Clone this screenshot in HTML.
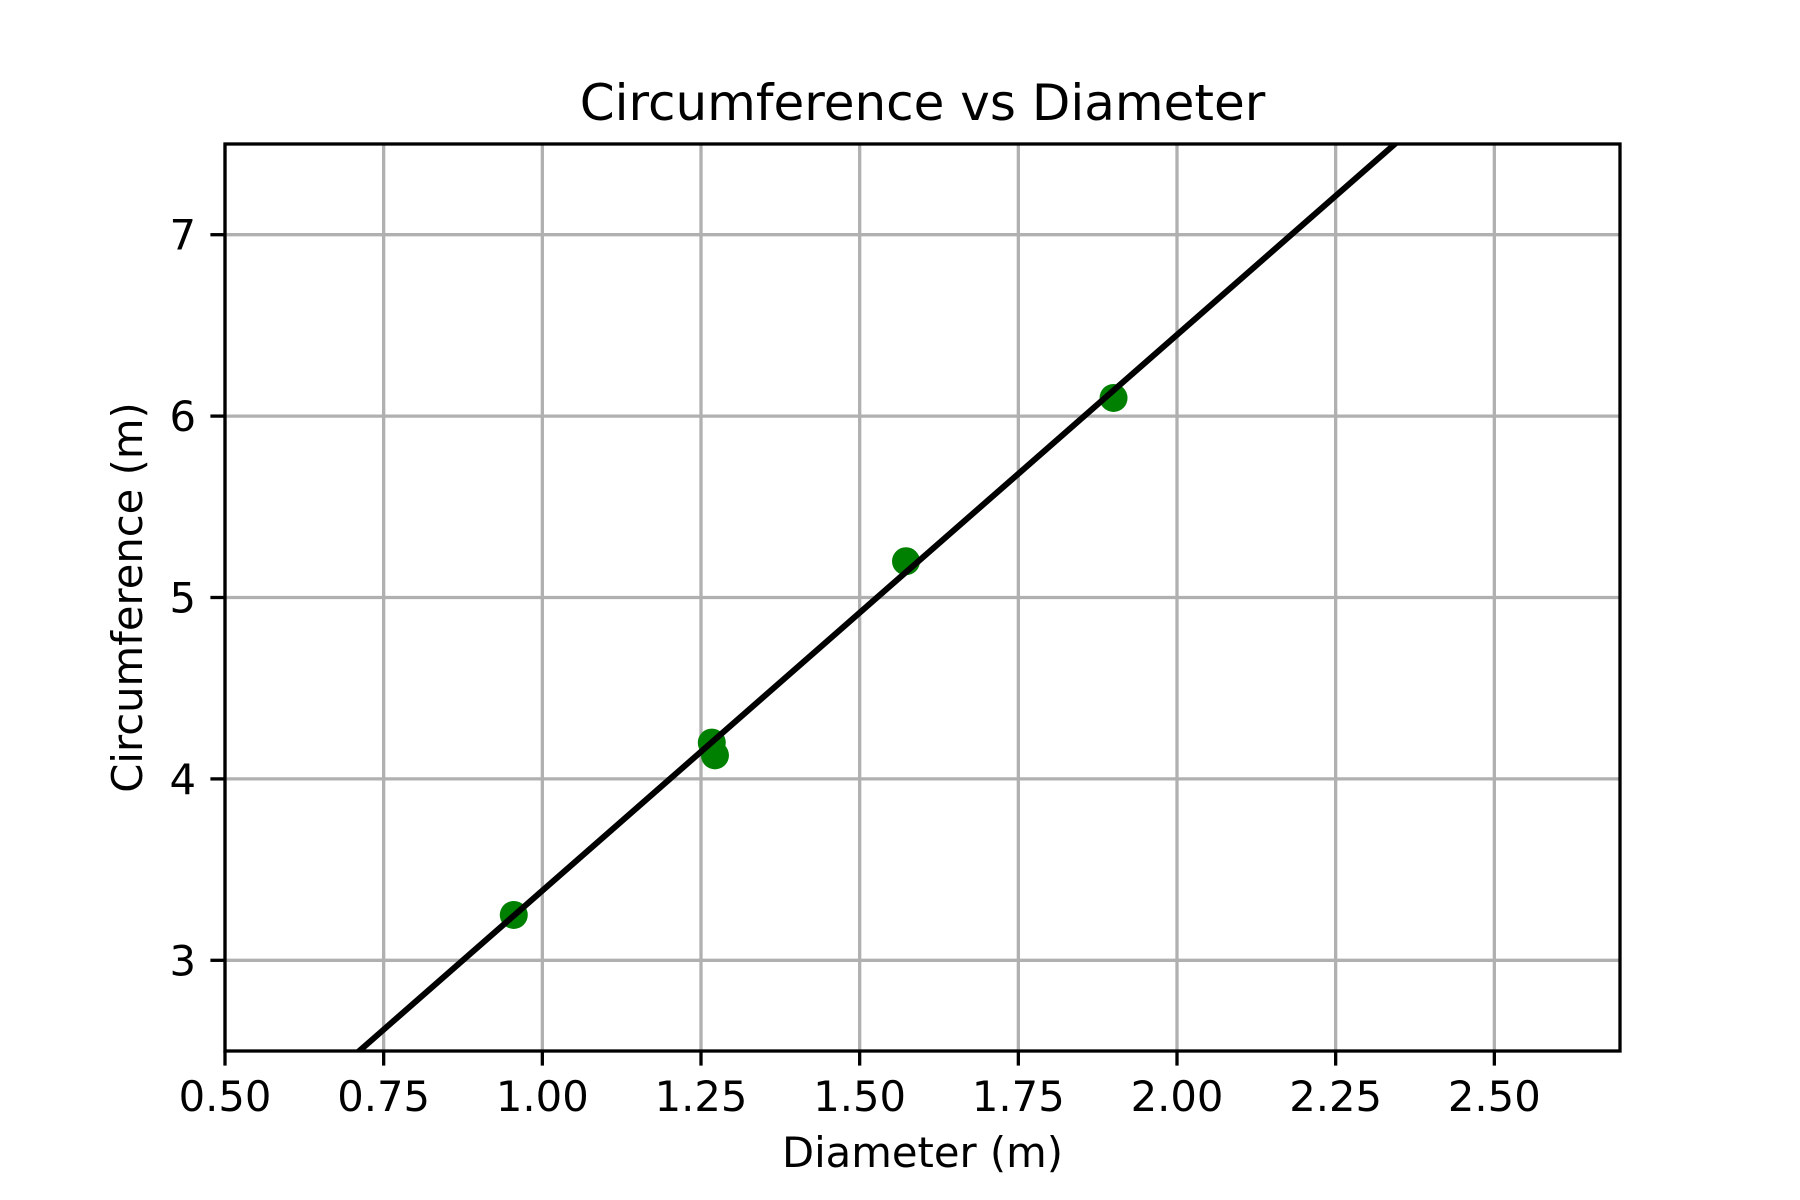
<!DOCTYPE html>
<html><head><meta charset="utf-8"><style>
html,body{margin:0;padding:0;background:#fff}
svg{display:block}
text{font-family:"DejaVu Sans","Liberation Sans",sans-serif;fill:#000}
</style></head><body>
<svg id="chart" width="1800" height="1200" viewBox="0 0 1800 1200" xmlns="http://www.w3.org/2000/svg"></svg>
<script>
const xTicks = [0.5, 0.75, 1.0, 1.25, 1.5, 1.75, 2.0, 2.25, 2.5];
const xTickLabels = ["0.50","0.75","1.00","1.25","1.50","1.75","2.00","2.25","2.50"];
const yTicks = [3, 4, 5, 6, 7];
const yTickLabels = ["3","4","5","6","7"];
const diameters = [0.955, 1.267, 1.272, 1.573, 1.900];
const circumferences = [3.25, 4.20, 4.13, 5.20, 6.10];
const fitSlope = [3.064];
const fitIntercept = [0.32];

const L=225,R=1620,T=144,B=1051;
const xMin=0.5,xMax=2.698,yMin=2.5,yMax=7.5;
const sx=v=>L+(v-xMin)/(xMax-xMin)*(R-L);
const sy=v=>B-(v-yMin)/(yMax-yMin)*(B-T);
const svg=document.getElementById('chart');
const NS='http://www.w3.org/2000/svg';
function mk(tag,attrs,parent){const e=document.createElementNS(NS,tag);for(const k in attrs)e.setAttribute(k,attrs[k]);(parent||svg).appendChild(e);return e;}

const clip=mk('clipPath',{id:'plotclip'});
mk('rect',{x:L,y:T,width:R-L,height:B-T},clip);

const grid=mk('g',{});


xTicks.forEach(v=>{
  const l=mk('line',{x1:sx(v),x2:sx(v),y1:T,y2:B,stroke:'#b0b0b0','stroke-width':3.3},grid);
  
  
});
yTicks.forEach(v=>{
  const l=mk('line',{x1:L,x2:R,y1:sy(v),y2:sy(v),stroke:'#b0b0b0','stroke-width':3.3},grid);
  
  
});

const pts=mk('g',{'clip-path':'url(#plotclip)'});


diameters.forEach((d,i)=>{
  const c=mk('circle',{cx:sx(d),cy:sy(circumferences[i]),r:14,fill:'#008000'},pts);
  
  
});

const fit=mk('line',{x1:sx(xMin),y1:sy(fitSlope[0]*xMin+fitIntercept[0]),x2:sx(xMax),y2:sy(fitSlope[0]*xMax+fitIntercept[0]),stroke:'#000','stroke-width':6,'clip-path':'url(#plotclip)'});



const frame=mk('rect',{x:L,y:T,width:R-L,height:B-T,fill:'none',stroke:'#000','stroke-width':3.3});



xTicks.forEach((v,i)=>{
  const t=mk('line',{x1:sx(v),x2:sx(v),y1:B,y2:B+14.6,stroke:'#000','stroke-width':3.3});
  
  
  const s=mk('text',{x:sx(v),y:1111,'text-anchor':'middle','font-size':41.7});
  s.textContent=xTickLabels[i];
  
  
});
yTicks.forEach((v,i)=>{
  const t=mk('line',{x1:L-14.6,x2:L,y1:sy(v),y2:sy(v),stroke:'#000','stroke-width':3.3});
  
  
  const s=mk('text',{x:196,y:sy(v)+15,'text-anchor':'end','font-size':41.7});
  s.textContent=yTickLabels[i];
  
  
});
</script>
<svg style="position:absolute;left:0;top:0" width="1800" height="1200">
<text x="922.5" y="120" text-anchor="middle" font-size="50">Circumference vs Diameter</text>
<text x="922.5" y="1167" text-anchor="middle" font-size="41.7">Diameter (m)</text>
<text x="0" y="0" text-anchor="middle" font-size="41.7" transform="translate(142,597.5) rotate(-90)">Circumference (m)</text>
</svg>
</body></html>
